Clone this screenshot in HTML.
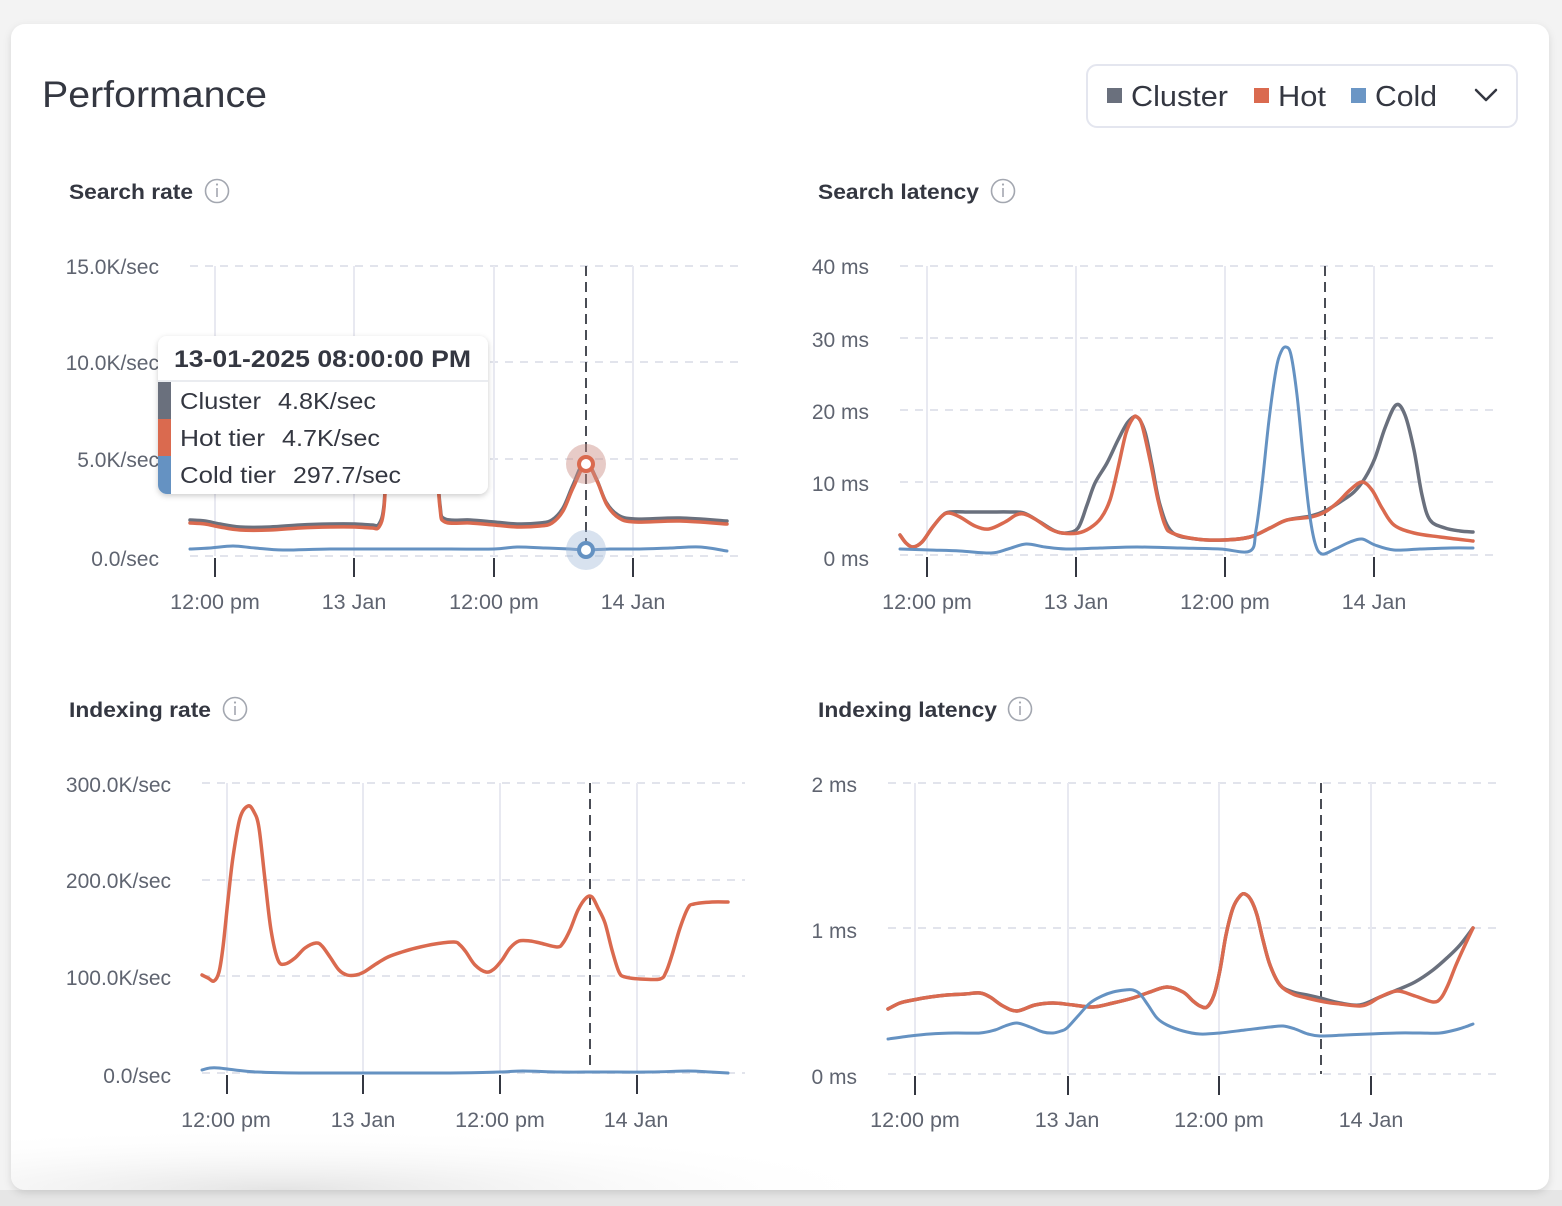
<!DOCTYPE html>
<html>
<head>
<meta charset="utf-8">
<style>
  html,body{margin:0;padding:0;background:#f3f3f3;width:1562px;height:1206px;overflow:hidden;}
  svg{display:block;position:absolute;left:0;top:0;}
  text{font-family:"Liberation Sans",Arial,sans-serif;}
  .yl{font-size:21px;fill:#5f6470;text-anchor:end;}
  .xl{font-size:21.5px;fill:#5f6470;text-anchor:middle;}
  .ct{font-size:21px;font-weight:bold;fill:#343741;}
  .hg{stroke:#e2e4ec;stroke-width:2;stroke-dasharray:8 7;fill:none;}
  .vg{stroke:#e8e9f1;stroke-width:2;fill:none;}
  .tk{stroke:#343741;stroke-width:2;fill:none;}
  .ch{stroke:#4a4d55;stroke-width:2;stroke-dasharray:10 6;fill:none;}
  .s{fill:none;stroke-width:3.5;stroke-linejoin:round;stroke-linecap:round;}
  .cl{stroke:#6a707d;}
  .ho{stroke:#da6a4f;}
  .co{stroke:#6592c2;stroke-width:3;}
  .info{fill:none;stroke:#a3a7b0;stroke-width:1.6;}
  .infoi{stroke:#a3a7b0;stroke-width:1.6;}
</style>
</head>
<body>
<svg width="1562" height="1206" viewBox="0 0 1562 1206" xmlns="http://www.w3.org/2000/svg">
  <defs>
    <filter id="sh" x="-10%" y="-10%" width="120%" height="130%">
      <feDropShadow dx="0" dy="2" stdDeviation="3" flood-color="#000" flood-opacity="0.2"/>
    </filter>
    <filter id="csh" x="-2%" y="-2%" width="104%" height="103%">
      <feDropShadow dx="0" dy="3" stdDeviation="4" flood-color="#000" flood-opacity="0.12"/>
    </filter>
    <radialGradient id="bg1" cx="0.3" cy="1" r="0.7" fx="0.3" fy="1">
      <stop offset="0" stop-color="#e4e4e4"/>
      <stop offset="1" stop-color="#ffffff" stop-opacity="0"/>
    </radialGradient>
    <clipPath id="ttclip"><rect x="158" y="336" width="330" height="158" rx="9"/></clipPath>
    <clipPath id="cardclip"><rect x="11" y="24" width="1538" height="1166" rx="14"/></clipPath>
  </defs>

  <!-- background -->
  <rect x="0" y="0" width="1562" height="1206" fill="#f3f3f3"/>
  <rect x="0" y="1190" width="1562" height="16" fill="#e6e6e6"/>
  <rect x="11" y="24" width="1538" height="1166" rx="14" fill="#ffffff" filter="url(#csh)"/>
  <g clip-path="url(#cardclip)">
    <rect x="11" y="1100" width="900" height="90" fill="url(#bg1)"/>
  </g>

  <!-- header -->
  <text x="42" y="107" font-size="37" fill="#343741" textLength="225" lengthAdjust="spacingAndGlyphs">Performance</text>

  <rect x="1087" y="65" width="430" height="62" rx="10" fill="#fff" stroke="#e4e6ef" stroke-width="2"/>
  <rect x="1107" y="88" width="15" height="15" fill="#6a707d"/>
  <text x="1131" y="106" font-size="29" fill="#343741" textLength="97" lengthAdjust="spacingAndGlyphs">Cluster</text>
  <rect x="1254" y="88" width="15" height="15" fill="#da6a4f"/>
  <text x="1278" y="106" font-size="29" fill="#343741" textLength="48" lengthAdjust="spacingAndGlyphs">Hot</text>
  <rect x="1351" y="88" width="15" height="15" fill="#6b96c5"/>
  <text x="1375" y="106" font-size="29" fill="#343741" textLength="62" lengthAdjust="spacingAndGlyphs">Cold</text>
  <polyline points="1476,90 1486,100 1496,90" fill="none" stroke="#343741" stroke-width="2.5" stroke-linecap="round" stroke-linejoin="round"/>

  <!-- ================= Chart 1: Search rate ================= -->
  <text class="ct" x="69" y="199" textLength="124" lengthAdjust="spacingAndGlyphs">Search rate</text>
  <circle class="info" cx="217" cy="191" r="11.5"/>
  <line class="infoi" x1="217" y1="188" x2="217" y2="197"/>
  <circle cx="217" cy="184.5" r="1.1" fill="#a3a7b0"/>

  <g>
    <line class="hg" x1="190" y1="266" x2="745" y2="266"/>
    <line class="hg" x1="190" y1="362" x2="745" y2="362"/>
    <line class="hg" x1="190" y1="459" x2="745" y2="459"/>
    <line class="hg" x1="190" y1="556" x2="745" y2="556"/>
    <line class="vg" x1="215" y1="266" x2="215" y2="556"/>
    <line class="vg" x1="354" y1="266" x2="354" y2="556"/>
    <line class="vg" x1="494" y1="266" x2="494" y2="556"/>
    <line class="vg" x1="633" y1="266" x2="633" y2="556"/>
    <line class="tk" x1="215" y1="558" x2="215" y2="577"/>
    <line class="tk" x1="354" y1="558" x2="354" y2="577"/>
    <line class="tk" x1="494" y1="558" x2="494" y2="577"/>
    <line class="tk" x1="633" y1="558" x2="633" y2="577"/>
    <text class="yl" x="159" y="274">15.0K/sec</text>
    <text class="yl" x="159" y="370">10.0K/sec</text>
    <text class="yl" x="159" y="467">5.0K/sec</text>
    <text class="yl" x="159" y="566">0.0/sec</text>
    <text class="xl" x="215" y="609">12:00 pm</text>
    <text class="xl" x="354" y="609">13 Jan</text>
    <text class="xl" x="494" y="609">12:00 pm</text>
    <text class="xl" x="633" y="609">14 Jan</text>
    <line class="ch" x1="586" y1="266" x2="586" y2="556"/>

    <polyline class="s cl" points="190,520 205,521 220,524 240,527 270,527 300,525 330,524 355,524 372,525 379,524 384,505 388,440 396,385 415,368 430,385 436,450 440,505 445,519 470,520 494,522 517,524 540,523 552,520 563,508 573,485 585,461 596,478 606,502 618,515 635,519 680,518 727,521"/>
    <polyline class="s ho" points="190,523 205,524 220,527 240,530 270,530 300,528 330,527 355,527 372,528 379,527 384,508 388,443 396,388 415,371 430,388 436,453 440,508 445,522 470,523 494,525 517,527 540,526 552,523 563,511 573,488 586,464 597,481 607,505 619,518 635,522 680,521 727,524"/>
    <polyline class="s co" points="190,549 210,548 233,546 255,548 283,550 330,549 400,549 450,549 494,549 517,547 545,548 570,549 586,550 610,549 640,549 670,548 700,547 727,551"/>

    <circle cx="586" cy="464" r="20" fill="#c98b82" fill-opacity="0.45"/>
    <circle cx="586" cy="464" r="7" fill="#fff" stroke="#da6a4f" stroke-width="4"/>
    <circle cx="586" cy="550" r="20" fill="#9db6d6" fill-opacity="0.4"/>
    <circle cx="586" cy="550" r="7" fill="#fff" stroke="#6592c2" stroke-width="4"/>
  </g>

  <!-- tooltip -->
  <g filter="url(#sh)">
    <rect x="158" y="336" width="330" height="158" rx="9" fill="#ffffff"/>
  </g>
  <g clip-path="url(#ttclip)">
    <line x1="158" y1="381" x2="488" y2="381" stroke="#e3e5ec" stroke-width="1.5"/>
    <rect x="158" y="382" width="13" height="37" fill="#6a707d"/>
    <rect x="158" y="419" width="13" height="37" fill="#da6a4f"/>
    <rect x="158" y="456" width="13" height="38" fill="#6592c2"/>
  </g>
  <text x="174" y="367" font-size="24" font-weight="bold" fill="#343741" textLength="297" lengthAdjust="spacingAndGlyphs">13-01-2025 08:00:00 PM</text>
  <text x="180" y="409" font-size="23" fill="#343741" textLength="81" lengthAdjust="spacingAndGlyphs">Cluster</text>
  <text x="278" y="409" font-size="23" fill="#343741" textLength="98" lengthAdjust="spacingAndGlyphs">4.8K/sec</text>
  <text x="180" y="446" font-size="23" fill="#343741" textLength="85" lengthAdjust="spacingAndGlyphs">Hot tier</text>
  <text x="282" y="446" font-size="23" fill="#343741" textLength="98" lengthAdjust="spacingAndGlyphs">4.7K/sec</text>
  <text x="180" y="483" font-size="23" fill="#343741" textLength="96" lengthAdjust="spacingAndGlyphs">Cold tier</text>
  <text x="293" y="483" font-size="23" fill="#343741" textLength="108" lengthAdjust="spacingAndGlyphs">297.7/sec</text>

  <!-- ================= Chart 2: Search latency ================= -->
  <text class="ct" x="818" y="199" textLength="161" lengthAdjust="spacingAndGlyphs">Search latency</text>
  <circle class="info" cx="1003" cy="191" r="11.5"/>
  <line class="infoi" x1="1003" y1="188" x2="1003" y2="197"/>
  <circle cx="1003" cy="184.5" r="1.1" fill="#a3a7b0"/>

  <g>
    <line class="hg" x1="900" y1="266" x2="1497" y2="266"/>
    <line class="hg" x1="900" y1="338" x2="1497" y2="338"/>
    <line class="hg" x1="900" y1="410" x2="1497" y2="410"/>
    <line class="hg" x1="900" y1="482" x2="1497" y2="482"/>
    <line class="hg" x1="900" y1="555" x2="1497" y2="555"/>
    <line class="vg" x1="927" y1="266" x2="927" y2="555"/>
    <line class="vg" x1="1076" y1="266" x2="1076" y2="555"/>
    <line class="vg" x1="1225" y1="266" x2="1225" y2="555"/>
    <line class="vg" x1="1374" y1="266" x2="1374" y2="555"/>
    <line class="tk" x1="927" y1="557" x2="927" y2="577"/>
    <line class="tk" x1="1076" y1="557" x2="1076" y2="577"/>
    <line class="tk" x1="1225" y1="557" x2="1225" y2="577"/>
    <line class="tk" x1="1374" y1="557" x2="1374" y2="577"/>
    <text class="yl" x="869" y="274">40 ms</text>
    <text class="yl" x="869" y="347">30 ms</text>
    <text class="yl" x="869" y="419">20 ms</text>
    <text class="yl" x="869" y="491">10 ms</text>
    <text class="yl" x="869" y="566">0 ms</text>
    <text class="xl" x="927" y="609">12:00 pm</text>
    <text class="xl" x="1076" y="609">13 Jan</text>
    <text class="xl" x="1225" y="609">12:00 pm</text>
    <text class="xl" x="1374" y="609">14 Jan</text>
    <line class="ch" x1="1325" y1="266" x2="1325" y2="555"/>

    <polyline class="s cl" points="900,535 906,543 913,547 922,542 932,528 942,516 950,512 970,512 990,512 1010,512 1024,513 1040,522 1055,531 1066,533 1078,528 1087,505 1095,483 1107,463 1118,440 1128,422 1137,417 1145,432 1152,465 1160,505 1172,532 1196,539 1224,540 1250,537 1270,528 1287,520 1311,516 1325,511 1340,502 1354,492 1365,478 1375,458 1385,428 1396,405 1405,415 1414,450 1422,495 1430,520 1445,528 1460,531 1473,532"/>
    <polyline class="s ho" points="900,535 906,543 913,547 922,542 932,528 942,516 949,513 960,517 975,526 989,529 1005,522 1016,515 1024,514 1035,519 1050,529 1062,533 1078,533 1090,528 1101,518 1110,500 1118,468 1126,433 1133,418 1137,417 1142,425 1150,460 1158,500 1165,525 1172,533 1196,539 1224,540 1250,537 1270,528 1287,520 1311,517 1325,512 1338,502 1350,490 1362,482 1372,490 1382,508 1394,525 1414,533 1440,537 1473,541"/>
    <polyline class="co s" points="900,549 930,550 960,551 991,553 1008,549 1026,544 1045,547 1066,549 1100,548 1137,547 1180,548 1220,549 1250,551 1256,530 1262,485 1269,420 1276,370 1281,352 1286,347 1291,355 1297,395 1303,455 1309,510 1315,543 1322,554 1335,549 1350,542 1362,539 1375,545 1394,550 1420,549 1450,548 1473,548"/>
  </g>

  <!-- ================= Chart 3: Indexing rate ================= -->
  <text class="ct" x="69" y="717" textLength="142" lengthAdjust="spacingAndGlyphs">Indexing rate</text>
  <circle class="info" cx="235" cy="709" r="11.5"/>
  <line class="infoi" x1="235" y1="706" x2="235" y2="715"/>
  <circle cx="235" cy="702.5" r="1.1" fill="#a3a7b0"/>

  <g>
    <line class="hg" x1="202" y1="783" x2="745" y2="783"/>
    <line class="hg" x1="202" y1="880" x2="745" y2="880"/>
    <line class="hg" x1="202" y1="976" x2="745" y2="976"/>
    <line class="hg" x1="202" y1="1073" x2="745" y2="1073"/>
    <line class="vg" x1="227" y1="783" x2="227" y2="1073"/>
    <line class="vg" x1="363" y1="783" x2="363" y2="1073"/>
    <line class="vg" x1="500" y1="783" x2="500" y2="1073"/>
    <line class="vg" x1="637" y1="783" x2="637" y2="1073"/>
    <line class="tk" x1="227" y1="1075" x2="227" y2="1094"/>
    <line class="tk" x1="363" y1="1075" x2="363" y2="1094"/>
    <line class="tk" x1="500" y1="1075" x2="500" y2="1094"/>
    <line class="tk" x1="637" y1="1075" x2="637" y2="1094"/>
    <text class="yl" x="171" y="792">300.0K/sec</text>
    <text class="yl" x="171" y="888">200.0K/sec</text>
    <text class="yl" x="171" y="985">100.0K/sec</text>
    <text class="yl" x="171" y="1083">0.0/sec</text>
    <text class="xl" x="226" y="1127">12:00 pm</text>
    <text class="xl" x="363" y="1127">13 Jan</text>
    <text class="xl" x="500" y="1127">12:00 pm</text>
    <text class="xl" x="636" y="1127">14 Jan</text>
    <line class="ch" x1="590" y1="783" x2="590" y2="1073"/>

    <polyline class="s ho" points="202,975 208,978 214,981 219,972 223,947 228,900 233,857 240,818 248,806 254,812 259,828 265,880 271,930 278,960 285,964 295,958 305,948 316,943 322,946 330,957 339,970 347,975 356,975 364,972 376,964 388,957 402,952 416,948 435,944 454,942 460,945 466,952 475,965 486,972 494,969 502,960 510,948 519,941 530,941 540,943 557,947 563,943 570,930 578,910 586,898 592,897 598,908 605,923 612,950 619,972 625,977 640,979 660,979 666,972 672,955 680,928 688,908 694,904 712,902 728,902"/>
    <polyline class="co s" points="202,1070 210,1068 219,1068 235,1070 257,1072 300,1073 367,1073 450,1073 500,1072 523,1071 560,1072 600,1072 650,1072 688,1071 710,1072 728,1073"/>
  </g>

  <!-- ================= Chart 4: Indexing latency ================= -->
  <text class="ct" x="818" y="717" textLength="179" lengthAdjust="spacingAndGlyphs">Indexing latency</text>
  <circle class="info" cx="1020" cy="709" r="11.5"/>
  <line class="infoi" x1="1020" y1="706" x2="1020" y2="715"/>
  <circle cx="1020" cy="702.5" r="1.1" fill="#a3a7b0"/>

  <g>
    <line class="hg" x1="888" y1="783" x2="1497" y2="783"/>
    <line class="hg" x1="888" y1="928" x2="1497" y2="928"/>
    <line class="hg" x1="888" y1="1074" x2="1497" y2="1074"/>
    <line class="vg" x1="915" y1="783" x2="915" y2="1074"/>
    <line class="vg" x1="1068" y1="783" x2="1068" y2="1074"/>
    <line class="vg" x1="1219" y1="783" x2="1219" y2="1074"/>
    <line class="vg" x1="1371" y1="783" x2="1371" y2="1074"/>
    <line class="tk" x1="915" y1="1076" x2="915" y2="1095"/>
    <line class="tk" x1="1068" y1="1076" x2="1068" y2="1095"/>
    <line class="tk" x1="1219" y1="1076" x2="1219" y2="1095"/>
    <line class="tk" x1="1371" y1="1076" x2="1371" y2="1095"/>
    <text class="yl" x="857" y="792">2 ms</text>
    <text class="yl" x="857" y="938">1 ms</text>
    <text class="yl" x="857" y="1084">0 ms</text>
    <text class="xl" x="915" y="1127">12:00 pm</text>
    <text class="xl" x="1067" y="1127">13 Jan</text>
    <text class="xl" x="1219" y="1127">12:00 pm</text>
    <text class="xl" x="1371" y="1127">14 Jan</text>
    <line class="ch" x1="1321" y1="783" x2="1321" y2="1074"/>

    <polyline class="s cl" points="888,1009 900,1003 913,1000 930,997 947,995 965,994 980,993 990,997 1003,1006 1017,1011 1035,1005 1053,1003 1073,1005 1093,1007 1113,1003 1133,998 1150,992 1167,987 1183,992 1193,1001 1200,1006 1207,1007 1214,995 1220,970 1226,935 1233,908 1240,896 1245,894 1251,900 1257,915 1263,940 1270,965 1280,985 1293,992 1307,995 1320,998 1340,1003 1360,1005 1380,997 1397,990 1415,982 1433,970 1448,957 1460,945 1473,928"/>
    <polyline class="s ho" points="888,1009 900,1003 913,1000 930,997 947,995 965,994 980,993 990,997 1003,1006 1017,1011 1035,1005 1053,1003 1073,1005 1093,1007 1113,1003 1133,998 1150,992 1167,987 1183,992 1193,1001 1200,1006 1207,1007 1214,995 1220,970 1226,935 1233,908 1240,896 1245,894 1251,900 1257,915 1263,940 1270,965 1280,985 1293,994 1307,998 1325,1002 1340,1004 1360,1006 1370,1003 1380,997 1397,991 1415,996 1433,1002 1441,998 1448,985 1456,965 1465,945 1473,928"/>
    <polyline class="co s" points="888,1039 910,1036 930,1034 955,1033 980,1033 995,1030 1005,1026 1017,1023 1030,1027 1043,1032 1053,1033 1061,1031 1067,1028 1078,1016 1090,1003 1102,996 1113,992 1125,990 1133,990 1140,994 1148,1005 1157,1018 1167,1025 1183,1031 1200,1034 1220,1033 1245,1030 1270,1027 1283,1026 1295,1029 1308,1034 1320,1036 1345,1035 1370,1034 1397,1033 1420,1033 1440,1033 1455,1030 1465,1027 1473,1024"/>
  </g>
</svg>
<script>
(function(){
  var pls = document.querySelectorAll('polyline.s');
  for (var k=0;k<pls.length;k++){
    var pl = pls[k];
    var raw = pl.getAttribute('points').trim().split(/\s+/).map(function(s){var a=s.split(',');return [parseFloat(a[0]),parseFloat(a[1])];});
    if (raw.length<3) continue;
    var d = 'M'+raw[0][0]+','+raw[0][1];
    for (var i=0;i<raw.length-1;i++){
      var p0 = raw[i-1]||raw[i], p1=raw[i], p2=raw[i+1], p3=raw[i+2]||p2;
      var c1x=p1[0]+(p2[0]-p0[0])/6, c1y=p1[1]+(p2[1]-p0[1])/6;
      var c2x=p2[0]-(p3[0]-p1[0])/6, c2y=p2[1]-(p3[1]-p1[1])/6;
      d+='C'+c1x.toFixed(2)+','+c1y.toFixed(2)+' '+c2x.toFixed(2)+','+c2y.toFixed(2)+' '+p2[0]+','+p2[1];
    }
    var path = document.createElementNS('http://www.w3.org/2000/svg','path');
    path.setAttribute('d',d);
    path.setAttribute('class',pl.getAttribute('class'));
    pl.parentNode.replaceChild(path,pl);
  }
})();
</script>
</body>
</html>
